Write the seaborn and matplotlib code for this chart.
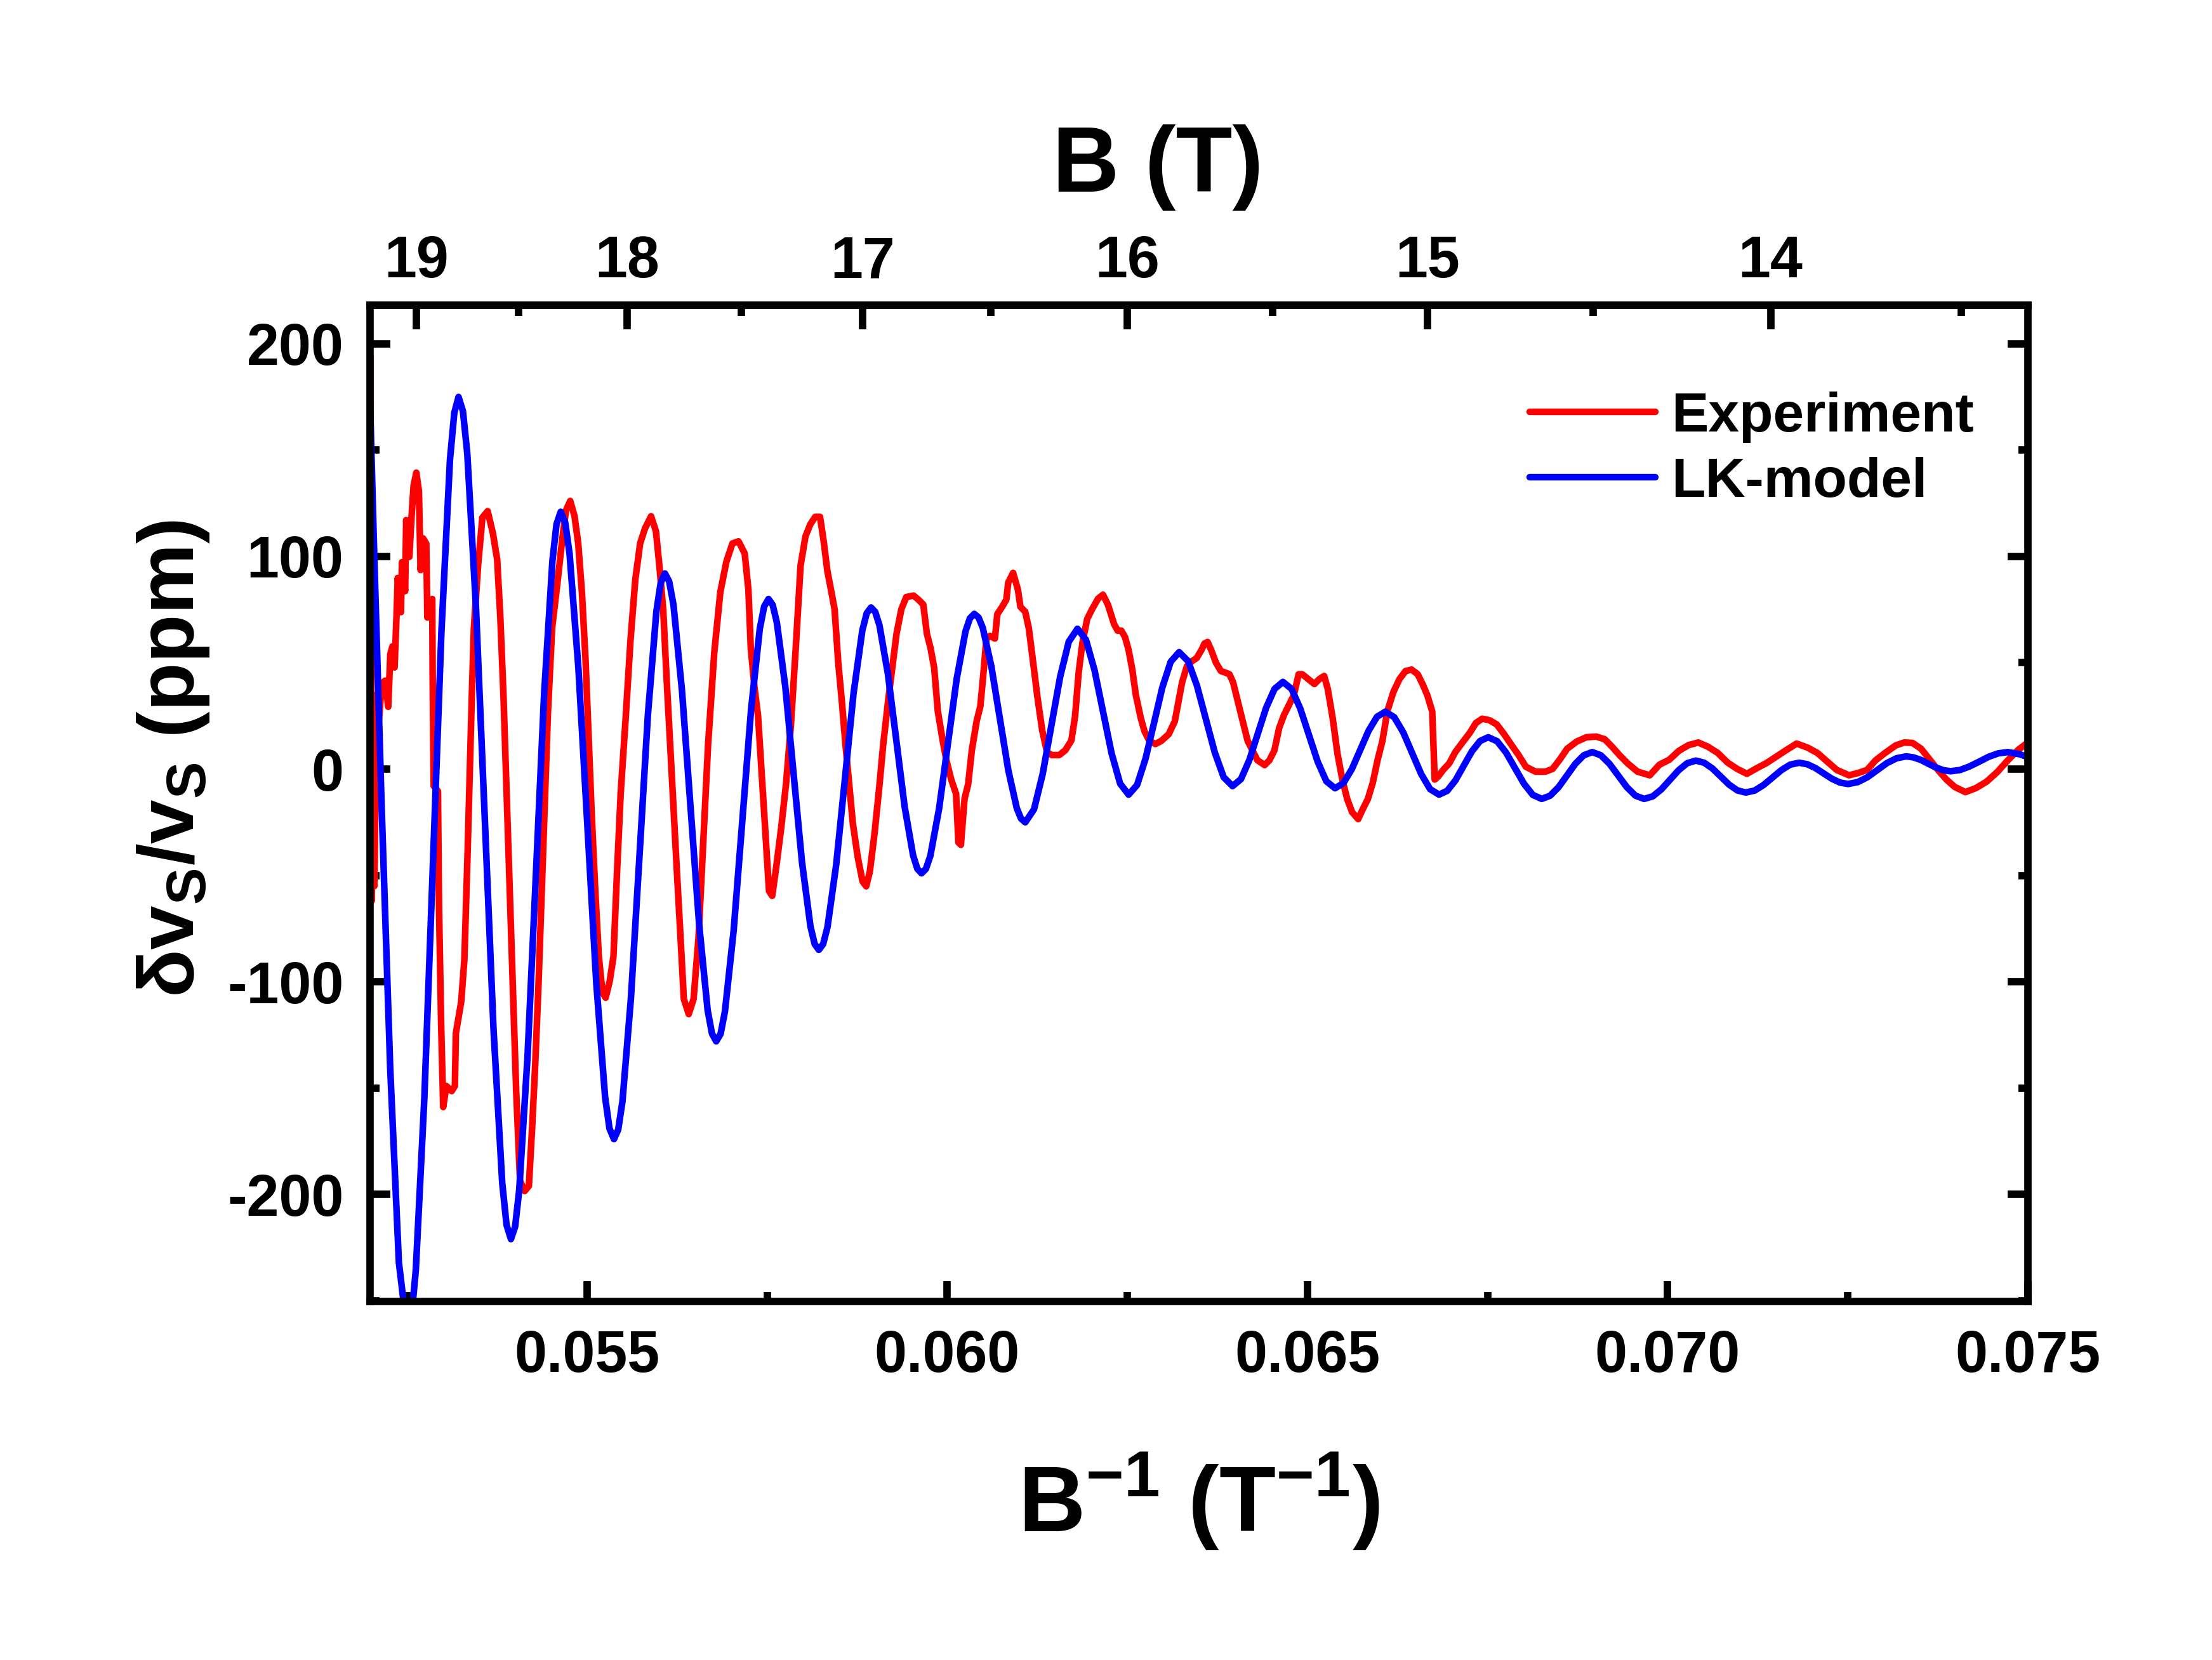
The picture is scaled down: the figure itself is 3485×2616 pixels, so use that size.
import numpy as np
import pandas as pd
import matplotlib
matplotlib.use('Agg')
import matplotlib.pyplot as plt
import seaborn as sns
from matplotlib.ticker import MultipleLocator, FixedLocator, FormatStrFormatter

# ---- data: B^-1 (T^-1) vs dv/v (ppm) ----
exp_x = [0.051995, 0.052012, 0.05203, 0.05205, 0.05208, 0.05211, 0.052154, 0.0522, 0.052242, 0.052271,
         0.0523, 0.05233, 0.052359, 0.052374, 0.052418, 0.052433, 0.052477, 0.052491, 0.052535, 0.052565,
         0.052594, 0.052632, 0.052668, 0.052691, 0.052726, 0.05277, 0.052785, 0.05282, 0.052853, 0.052858,
         0.052873, 0.052932, 0.052947, 0.052976, 0.053005, 0.053049, 0.053123, 0.053167, 0.053181, 0.053255,
         0.053299, 0.053343, 0.053402, 0.053431, 0.05349, 0.053549, 0.053622, 0.053695, 0.053754, 0.053798,
         0.053842, 0.053901, 0.05396, 0.054018, 0.054071, 0.054136, 0.054194, 0.054239, 0.054282, 0.054327,
         0.05437, 0.054415, 0.054459, 0.054517, 0.054592, 0.05466, 0.05471, 0.054768, 0.054828, 0.054879,
         0.05493, 0.05498, 0.055014, 0.055064, 0.055115, 0.055165, 0.055216, 0.05526, 0.055317, 0.055368,
         0.055418, 0.055469, 0.055536, 0.055604, 0.055671, 0.055738, 0.055806, 0.05589, 0.055958, 0.056008,
         0.056059, 0.056109, 0.056177, 0.056244, 0.056295, 0.056345, 0.056413, 0.05648, 0.056548, 0.056615,
         0.056682, 0.056767, 0.056851, 0.056935, 0.057019, 0.057104, 0.05719, 0.057241, 0.057274, 0.057325,
         0.057375, 0.057426, 0.057477, 0.057527, 0.057571, 0.057628, 0.057696, 0.057763, 0.05783, 0.057898,
         0.057965, 0.058033, 0.0581, 0.058168, 0.058235, 0.058286, 0.058336, 0.058387, 0.058437, 0.058488,
         0.058538, 0.058589, 0.05864, 0.05869, 0.058758, 0.058825, 0.058876, 0.058926, 0.058993, 0.059061,
         0.059111, 0.059179, 0.059246, 0.059297, 0.059364, 0.059432, 0.059533, 0.0596, 0.059668, 0.059718,
         0.059769, 0.059819, 0.05987, 0.059937, 0.059988, 0.060055, 0.060123, 0.060156, 0.06019, 0.060241,
         0.060291, 0.060342, 0.060409, 0.06046, 0.06051, 0.060544, 0.060595, 0.060662, 0.060696, 0.060763,
         0.060821, 0.060847, 0.060915, 0.060982, 0.061016, 0.061083, 0.061134, 0.061185, 0.061252, 0.061319,
         0.061387, 0.061454, 0.061555, 0.06164, 0.061724, 0.061775, 0.061825, 0.061876, 0.061943, 0.062011,
         0.062095, 0.062162, 0.06223, 0.062316, 0.062366, 0.062417, 0.062468, 0.062518, 0.062569, 0.062619,
         0.062687, 0.062737, 0.062805, 0.062889, 0.062973, 0.063074, 0.063159, 0.063209, 0.06326, 0.063327,
         0.063395, 0.063462, 0.063529, 0.06357, 0.063614, 0.063664, 0.063732, 0.063799, 0.063867, 0.063917,
         0.063968, 0.064035, 0.064102, 0.06417, 0.064237, 0.064305, 0.064406, 0.064473, 0.064541, 0.064608,
         0.064675, 0.064743, 0.06481, 0.064878, 0.064928, 0.065012, 0.065097, 0.065164, 0.065232, 0.065282,
         0.06535, 0.065417, 0.065484, 0.065552, 0.065619, 0.065704, 0.065771, 0.065838, 0.065906, 0.065973,
         0.066041, 0.066108, 0.066192, 0.066277, 0.066361, 0.066445, 0.06653, 0.066597, 0.066664, 0.066732,
         0.066766, 0.066816, 0.066883, 0.066968, 0.067052, 0.067153, 0.067254, 0.067338, 0.067425, 0.067526,
         0.067627, 0.067728, 0.067829, 0.06793, 0.068032, 0.068166, 0.068301, 0.068402, 0.068504, 0.068605,
         0.068739, 0.068874, 0.069009, 0.069127, 0.069228, 0.06933, 0.069447, 0.069582, 0.069751, 0.069886,
         0.070021, 0.070155, 0.07029, 0.070425, 0.07056, 0.070695, 0.07083, 0.070964, 0.071099, 0.071234,
         0.071369, 0.071504, 0.071639, 0.07179, 0.071942, 0.072077, 0.072212, 0.072347, 0.072517, 0.072635,
         0.072767, 0.072884, 0.073017, 0.073163, 0.073281, 0.073398, 0.073516, 0.073633, 0.073751, 0.073868,
         0.073985, 0.074132, 0.074279, 0.074426, 0.074573, 0.074719, 0.074866, 0.074998]
exp_y = [194, -62, 20, -55, 35, 22, 40.4, 41.6, 29.3, 54,
         57.7, 47.8, 73.8, 89.9, 73.8, 97.3, 83.7, 117.1, 99.8, 118.3,
         133.2, 139.4, 130.7, 93.6, 108.5, 106, 71.3, 78.8, 80, 46.6,
         -7.9, -10.4, -64.8, -119.3, -158.9, -149, -151.4, -149, -124.2, -109.4,
         -89.5, -40, 34.2, 66.4, 96.1, 118.3, 121.3, 110.9, 98.6, 71.3,
         34.2, -27.7, -89.5, -151.4, -193.5, -198.4, -196, -168.7, -139, -101.9,
         -59.8, -15.3, 26.8, 66.4, 88, 108.9, 121.8, 126.1, 118.9, 106.1,
         83.2, 51.8, 23.3, -19.6, -56.7, -88.1, -105.2, -107.5, -99.5, -88.1,
         -48.1, -11, 23.3, 60.4, 89, 106.1, 113.2, 118.9, 111.8, 94.7,
         74.7, 40.4, -2.4, -45.3, -76.7, -108.1, -115.2, -108.1, -79.5, -33.8,
         11.9, 54.7, 83.2, 97.5, 106.1, 107.1, 101.4, 84.3, 56.9, 38.6,
         24.9, -2.5, -29.9, -57.3, -59.6, -45.9, -27.6, -7.1, 20.3, 56.9,
         95.7, 109.4, 115.1, 118.6, 118.6, 107.1, 93.4, 84.3, 75.2, 50,
         31.8, 11.2, -7.1, -25.4, -41.3, -52.8, -55.1, -48.2, -29.9, -7.1,
         11.2, 31.8, 50, 63.7, 75.2, 80.9, 81.6, 79.7, 77.4, 63.7,
         56.9, 47.7, 27.2, 13.5, 4.3, -4.8, -11.6, -34.5, -35.6, -13.9,
         -7.1, 8.9, 22.6, 29.5, 47.7, 61.4, 62.6, 61.4, 72.9, 76.3,
         79.7, 87.7, 92.3, 84.3, 76.3, 74, 66, 52.3, 34, 18.1,
         7.8, 6.6, 6.6, 8.9, 13.5, 24.9, 45.5, 59.2, 70.6, 75.2,
         80.2, 82, 77.4, 68.2, 65.1, 65.1, 62.1, 56, 46.8, 34.7,
         24, 17.9, 13.3, 11.8, 13.3, 16.4, 22.5, 31.6, 40.8, 48.4,
         50.7, 52.2, 56, 59, 59.8, 56, 49.9, 46.1, 45.3, 44.6,
         40.8, 31.6, 22.5, 13.3, 8.8, 4.2, 1.9, 4.2, 8.8, 19.4,
         25.5, 30.1, 34.7, 44.6, 44.6, 42.3, 40, 42.3, 43.8, 37.7,
         24, 7.2, -4.9, -14.1, -20.2, -23.5, -18.6, -14.1, -6.5, 4.2,
         13.3, 27.1, 36.2, 42.3, 46.1, 46.8, 44.6, 40, 34.7, 27.1,
         -4.9, -3.4, -0.4, 2.7, 8, 12.6, 17.1, 21.7, 23.7, 23,
         21, 16.5, 11.5, 6.6, 1.1, -1.2, -1.2, 0.1, 4.6, 9.6,
         13, 15, 15.3, 14, 10.5, 6.6, 2.6, -1.2, -2.9, 2.1,
         4.4, 8.6, 11.3, 12.5, 10.5, 7.6, 3.1, 0.1, -2.2, 0.4,
         2.8, 5.8, 8.8, 12, 10.1, 7.6, 3.6, -0.4, -2.9, -1.9,
         -0.4, 4.1, 7.6, 11.1, 12.5, 12.3, 9.6, 4.6, -0.4, -4.9,
         -8.4, -10.8, -8.9, -5.9, -1.4, 4.1, 9.1, 12.5]

lk_x = [0.05199, 0.05204, 0.05215, 0.05227, 0.05239, 0.052506,
        0.052565, 0.052625, 0.052743, 0.052862, 0.052981, 0.053099, 0.053159, 0.053218,
        0.053279, 0.053339, 0.05346, 0.053582, 0.053703, 0.053824, 0.053884, 0.053945,
        0.054003, 0.05406, 0.054175, 0.054291, 0.054406, 0.054521, 0.054578, 0.054636,
        0.054698, 0.054759, 0.054882, 0.055006, 0.055129, 0.055252, 0.055313, 0.055375,
        0.055434, 0.055493, 0.055611, 0.055729, 0.055846, 0.055964, 0.056023, 0.056082,
        0.056141, 0.056201, 0.056319, 0.056438, 0.056557, 0.056675, 0.056735, 0.056794,
        0.056855, 0.056915, 0.057036, 0.057157, 0.057278, 0.057399, 0.05746, 0.05752,
        0.057578, 0.057636, 0.057753, 0.057869, 0.057985, 0.058102, 0.05816, 0.058218,
        0.058278, 0.058339, 0.05846, 0.058581, 0.058701, 0.058822, 0.058883, 0.058943,
        0.059001, 0.05906, 0.059177, 0.059294, 0.05941, 0.059527, 0.059586, 0.059644,
        0.059705, 0.059766, 0.059888, 0.06001, 0.060132, 0.060254, 0.060315, 0.060376,
        0.060435, 0.060494, 0.060612, 0.06073, 0.060848, 0.060966, 0.061025, 0.061084,
        0.061205, 0.061325, 0.061446, 0.061567, 0.061687, 0.061808,
        0.061926, 0.062045, 0.062163, 0.062281, 0.0624, 0.062518,
        0.062635, 0.062752, 0.062869, 0.062985, 0.063102, 0.063219,
        0.063343, 0.063466, 0.06359, 0.063714, 0.063837, 0.063961,
        0.064077, 0.064194, 0.06431, 0.064426, 0.064543, 0.064659,
        0.06478, 0.0649, 0.065021, 0.065142, 0.065262, 0.065383,
        0.065499, 0.065616, 0.065732, 0.065848, 0.065965, 0.066081,
        0.066205, 0.066329, 0.066454, 0.066578, 0.066702, 0.066826,
        0.06694, 0.067054, 0.067168, 0.067281, 0.067395, 0.067509,
        0.067633, 0.067756, 0.06788, 0.068004, 0.068127, 0.068251,
        0.068368, 0.068485, 0.068602, 0.068718, 0.068835, 0.068952,
        0.069072, 0.069192, 0.069313, 0.069433, 0.069553, 0.069673,
        0.069793, 0.069912, 0.070032, 0.070152, 0.070271, 0.070391,
        0.070506, 0.070621, 0.070737, 0.070852, 0.070967, 0.071082,
        0.071206, 0.071329, 0.071453, 0.071577, 0.0717, 0.071824,
        0.071937, 0.07205, 0.072164, 0.072277, 0.07239, 0.072503,
        0.072638, 0.072772, 0.072907, 0.073041, 0.073176, 0.07331,
        0.073413, 0.073516, 0.073619, 0.073721, 0.073824, 0.073927,
        0.074059, 0.074191, 0.074323, 0.074455, 0.074587, 0.074719,
        0.074885, 0.07505]
lk_y = [172, 110, -17, -141, -232, -265,
        -257.5, -235.5, -155, -45, 65, 145.5, 167.5, 175,
        168.3, 148.5, 76, -23, -122, -194.5, -214.3, -221,
        -215.2, -198, -135.5, -50, 35.5, 98, 115.2, 121,
        116, 101.2, 47.3, -26.5, -100.3, -154.2, -169, -174,
        -169.5, -156.2, -107.5, -41, 25.5, 74.2, 87.5, 92,
        88.3, 77.3, 37, -18, -73, -113.3, -124.3, -128,
        -124.5, -114, -76, -24, 28, 66, 76.5, 80,
        77.2, 68.9, 38.8, -2.5, -43.8, -73.9, -82.2, -85,
        -82.3, -74.2, -44.8, -4.5, 35.8, 65.2, 73.3, 76,
        73.9, 67.6, 44.8, 13.5, -17.8, -40.6, -46.9, -49,
        -46.9, -40.8, -18.5, 12, 42.5, 64.8, 70.9, 73,
        71.3, 66.4, 48.5, 24, -0.5, -18.4, -23.3, -25,
        -18.9, -2.3, 20.5, 43.3, 59.9, 66,
        60.8, 46.5, 27, 7.5, -6.8, -12,
        -7.5, 4.8, 21.5, 38.3, 50.5, 55,
        50.8, 39.3, 23.5, 7.8, -3.8, -8,
        -4.7, 4.3, 16.5, 28.8, 37.7, 41,
        37.7, 28.5, 16, 3.5, -5.7, -9,
        -6.6, 0, 9, 18, 24.6, 27,
        24.4, 17.3, 7.5, -2.3, -9.4, -12,
        -10.2, -5.3, 1.5, 8.3, 13.2, 15,
        13.1, 7.8, 0.5, -6.8, -12.1, -14,
        -12.5, -8.5, -3, 2.5, 6.5, 8,
        6.5, 2.5, -3, -8.5, -12.5, -14,
        -12.8, -9.5, -5, -0.5, 2.8, 4,
        3, 0.3, -3.5, -7.3, -10, -11,
        -10.1, -7.5, -4, -0.5, 2.1, 3,
        2.3, 0.5, -2, -4.5, -6.3, -7,
        -6.1, -3.8, -0.5, 2.8, 5.1, 6,
        5.5, 4.3, 2.5, 0.8, -0.5, -1,
        -0.4, 1.3, 3.5, 5.8, 7.4, 8,
        7, 5]

b_ticks = [14, 15, 16, 17, 18, 19]
b_minor = [13.5, 14.5, 15.5, 16.5, 17.5, 18.5]

exp_df = pd.DataFrame({'inv_b': exp_x, 'dv': exp_y})
lk_df = pd.DataFrame({'inv_b': lk_x, 'dv': lk_y})

sns.set_theme(style='ticks')
plt.rcParams['font.family'] = ['Liberation Sans', 'DejaVu Sans']
plt.rcParams['font.weight'] = 'bold'
plt.rcParams['mathtext.fontset'] = 'custom'
plt.rcParams['mathtext.rm'] = 'Liberation Sans:bold'
plt.rcParams['mathtext.bf'] = 'Liberation Sans:bold'
plt.rcParams['mathtext.it'] = 'Liberation Sans:italic:bold'
plt.rcParams['mathtext.default'] = 'bf'
plt.rcParams['axes.unicode_minus'] = False
for k in ['axes.edgecolor', 'text.color', 'axes.labelcolor', 'xtick.color', 'ytick.color']:
    plt.rcParams[k] = 'black'

fig = plt.figure(figsize=(3485/300, 2616/300), dpi=300)
ax = fig.add_axes([0.1673, 0.2160, 0.7495, 0.6001])

sns.lineplot(data=exp_df, x='inv_b', y='dv', color='#ff0000', lw=2.5,
             estimator=None, sort=False, label='Experiment', ax=ax)
sns.lineplot(data=lk_df, x='inv_b', y='dv', color='#0000ff', lw=2.5,
             estimator=None, sort=False, label='LK-model', ax=ax)

ax.set_xlim(0.05199, 0.075)
ax.set_ylim(-250.3, 218.1)
ax.xaxis.set_major_locator(MultipleLocator(0.005))
ax.xaxis.set_minor_locator(MultipleLocator(0.0025))
ax.xaxis.set_major_formatter(FormatStrFormatter('%.3f'))
ax.yaxis.set_major_locator(MultipleLocator(100))
ax.yaxis.set_minor_locator(MultipleLocator(50))
ax.tick_params(axis='x', which='both', direction='in', top=False, bottom=True,
               width=2.8, labelsize=22, pad=10.5, colors='black')
ax.tick_params(axis='y', which='both', direction='in', left=True, right=True,
               width=2.8, labelsize=22, pad=10, colors='black')
ax.tick_params(which='major', length=7.7)
ax.tick_params(which='minor', length=3.5)
for s in ax.spines.values():
    s.set_linewidth(2.8)
    s.set_color('black')

ax.set_xlabel(r'B$^{-1}$ (T$^{-1}$)', fontsize=35, fontweight='bold', color='black')
ax.xaxis.set_label_coords(0.5, -0.150)
ax.set_ylabel(r'δv$_{S}$/v$_{S}$ (ppm)', fontsize=30, fontweight='bold', color='black')
ax.yaxis.set_label_coords(-0.0957, 0.545)


def inv(v):
    v = np.asarray(v, dtype=float)
    out = np.full_like(v, np.inf)
    nz = v != 0
    out[nz] = 1.0 / v[nz]
    return out


secax = ax.secondary_xaxis('top', functions=(inv, inv))
secax.xaxis.set_major_locator(FixedLocator(b_ticks))
secax.xaxis.set_minor_locator(FixedLocator(b_minor))
secax.xaxis.set_major_formatter(FormatStrFormatter('%d'))
secax.tick_params(which='both', direction='in', width=2.8, labelsize=22, pad=6, colors='black')
secax.tick_params(which='major', length=9)
secax.tick_params(which='minor', length=4)
secax.spines['top'].set_linewidth(2.8)
secax.set_xlabel('B (T)', fontsize=35, fontweight='bold', color='black')
secax.xaxis.set_label_coords(0.475, 1.114, transform=ax.transAxes)

ax.legend(loc='center left', bbox_to_anchor=(0.6995, 0.855), frameon=False,
          fontsize=21, handlelength=2.26, handletextpad=0.29, borderpad=0,
          borderaxespad=0, labelspacing=0.25)

fig.savefig('out.png', dpi=300)
